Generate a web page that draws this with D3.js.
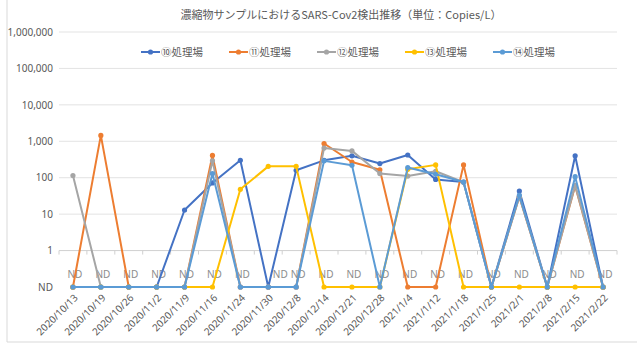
<!DOCTYPE html>
<html>
<head>
<meta charset="utf-8">
<script src="https://cdn.jsdelivr.net/npm/d3@7"></script>
<style>
  body { margin: 0; background: #fff; }
  text { font-family: "Noto Sans", "Noto Sans CJK JP", sans-serif; }
</style>
</head>
<body>
<script>
// ND (not detected) is drawn one decade below 1
const ND = 0.1

const dates = ["2020/10/13","2020/10/19","2020/10/26","2020/11/2","2020/11/9","2020/11/16",
  "2020/11/24","2020/11/30","2020/12/8","2020/12/14","2020/12/21","2020/12/28",
  "2021/1/4","2021/1/12","2021/1/18","2021/1/25","2021/2/1","2021/2/8","2021/2/15","2021/2/22"]

const names = ["⑩処理場","⑪処理場","⑫処理場","⑬処理場","⑭処理場"]
const colors = ["#4472C4","#ED7D31","#A5A5A5","#FFC000","#5B9BD5"]

const plant10 = [ND, ND, ND, ND, 13, 72, 300, ND, 160, 300, 400, 245, 420, 90, 76, ND, 43, ND, 400, ND]
const plant11 = [ND, 1450, ND, ND, ND, 410, ND, ND, ND, 870, 270, 165, ND, ND, 225, ND, 30, ND, 59, ND]
const plant12 = [115, ND, ND, ND, ND, 290, ND, ND, ND, 650, 545, 130, 111, 150, 75, ND, 30, ND, 62, ND]
const plant13 = [ND, ND, ND, ND, ND, ND, 48, 205, 205, ND, ND, ND, 170, 225, ND, ND, ND, ND, ND, ND]
const plant14 = [ND, ND, ND, ND, ND, 130, ND, ND, ND, 290, 220, ND, 190, 124, 76, ND, 33, ND, 107, ND]

const series = [plant10, plant11, plant12, plant13, plant14]
const yTicks = [ND, 1, 10, 100, 1000, 10000, 100000, 1000000]

const W = 637, H = 346
const svg = d3.select("body").append("svg").attr("width", W).attr("height", H)

const x = d3.scaleBand().domain(dates).range([59, 617])
const y = d3.scaleLog().domain([ND, 1000000]).range([287, 32])

// chart frame
svg.append("line").attr("x1", 7).attr("x2", 7).attr("y1", 0).attr("y2", 342).attr("stroke", "#d9d9d9")
svg.append("line").attr("x1", 7).attr("x2", W).attr("y1", 342).attr("y2", 342).attr("stroke", "#d9d9d9")

// title
svg.append("text")
  .attr("x", 341).attr("y", 19)
  .attr("text-anchor", "middle")
  .attr("font-size", 11)
  .attr("fill", "#595959")
  .style("font-family", "'Noto Sans CJK JP', sans-serif")
  .text("濃縮物サンプルにおけるSARS-Cov2検出推移（単位：Copies/L）")

// gridlines
svg.append("g").selectAll("line")
  .data(yTicks.filter(d => d > 1))
  .join("line")
  .attr("x1", 59).attr("x2", 617)
  .attr("y1", d => y(d)).attr("y2", d => y(d))
  .attr("stroke", "#e3e3e3")

// horizontal axis crosses at 1
svg.append("line")
  .attr("x1", 59).attr("x2", 617)
  .attr("y1", y(1)).attr("y2", y(1))
  .attr("stroke", "#d0d0d0")
svg.append("g").selectAll("line")
  .data(d3.range(dates.length + 1))
  .join("line")
  .attr("x1", i => 59 + i * x.step()).attr("x2", i => 59 + i * x.step())
  .attr("y1", y(1)).attr("y2", y(1) + 4)
  .attr("stroke", "#d0d0d0")

// y axis
const yAxis = svg.append("g")
  .attr("transform", "translate(59,0)")
  .call(d3.axisLeft(y).tickValues(yTicks).tickSize(0).tickPadding(6)
    .tickFormat(d => d === ND ? "ND" : d3.format(",")(d)))
yAxis.select(".domain").remove()
yAxis.selectAll("text").attr("font-size", 10).attr("fill", "#595959")
  .style("font-family", "'Noto Sans', sans-serif")

// x axis labels
const xAxis = svg.append("g")
  .attr("transform", "translate(0,293)")
  .call(d3.axisBottom(x).tickSize(0).tickPadding(0))
xAxis.select(".domain").remove()
xAxis.selectAll("text")
  .attr("font-size", 10)
  .attr("fill", "#595959")
  .attr("text-anchor", "end")
  .attr("dy", "0.35em")
  .attr("transform", "translate(3,3) rotate(-45)")

// ND data labels
svg.append("g").selectAll("text")
  .data(dates)
  .join("text")
  .attr("x", (d, i) => x(d) + x.bandwidth() / 2 + (i === 7 ? 12 : 2))
  .attr("y", 278)
  .attr("text-anchor", "middle")
  .attr("font-size", 10)
  .attr("fill", "#8c8c8c")
  .text("ND")

// series lines and markers
const line = d3.line()
  .x((d, i) => x(dates[i]) + x.bandwidth() / 2)
  .y(d => y(d))

series.forEach((s, k) => {
  const g = svg.append("g")
  g.append("path")
    .attr("d", line(s))
    .attr("fill", "none")
    .attr("stroke", colors[k])
    .attr("stroke-width", 2)
    .attr("stroke-linejoin", "round")
  g.selectAll("circle")
    .data(s)
    .join("circle")
    .attr("cx", (d, i) => x(dates[i]) + x.bandwidth() / 2)
    .attr("cy", d => y(d))
    .attr("r", 2.6)
    .attr("fill", colors[k])
})

// legend
const legend = svg.append("g").selectAll("g")
  .data(names)
  .join("g")
  .attr("transform", (d, i) => `translate(${141 + i * 88},52)`)
legend.append("line")
  .attr("x1", 0).attr("x2", 19)
  .attr("stroke", (d, i) => colors[i]).attr("stroke-width", 2)
legend.append("circle")
  .attr("cx", 9.5).attr("r", 2.6)
  .attr("fill", (d, i) => colors[i])
legend.append("text")
  .attr("x", 20).attr("dy", "0.35em")
  .attr("font-size", 10.5)
  .attr("fill", "#595959")
  .style("font-family", "'Noto Sans CJK JP', sans-serif")
  .text(d => d)
</script>
</body>
</html>
